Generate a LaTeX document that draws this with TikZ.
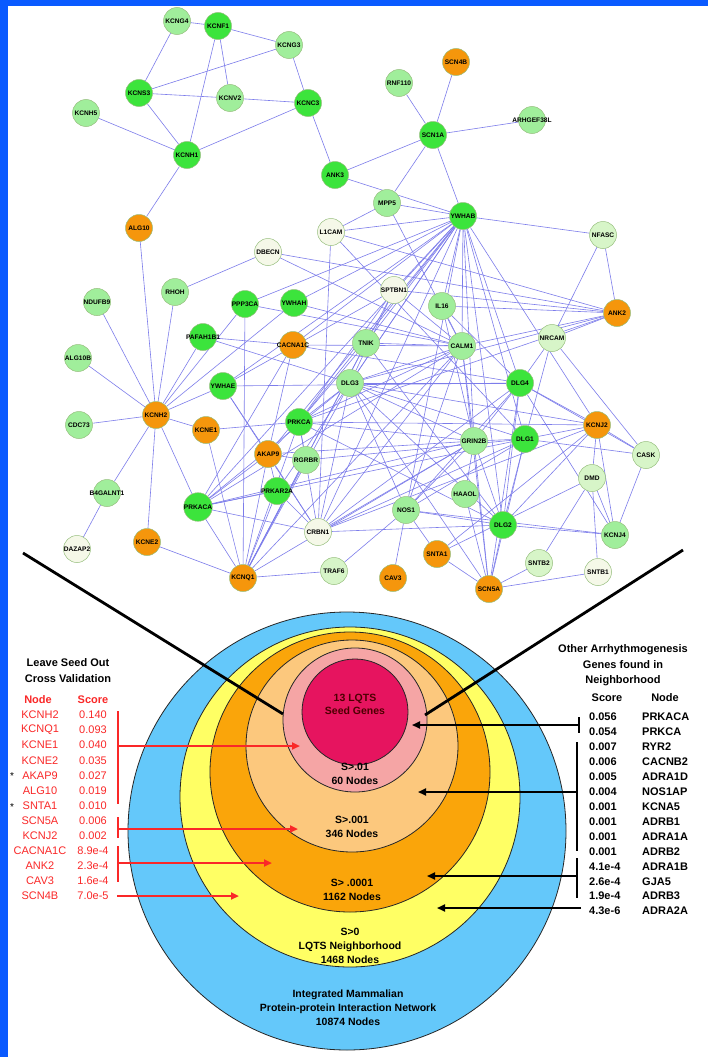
\documentclass[tikz,border=0pt]{standalone}
\usepackage{fontspec}
\setmainfont{Liberation Sans}
\usetikzlibrary{arrows.meta}
\definecolor{bordblue}{RGB}{10,90,255}
\definecolor{edgec}{RGB}{125,125,235}
\definecolor{nbord}{RGB}{150,190,125}
\definecolor{cbg}{RGB}{60,228,60}
\definecolor{clg}{RGB}{160,238,155}
\definecolor{cpg}{RGB}{215,245,200}
\definecolor{cwn}{RGB}{245,248,232}
\definecolor{cog}{RGB}{245,150,12}
\definecolor{ringblue}{RGB}{100,200,250}
\definecolor{ringyel}{RGB}{255,255,100}
\definecolor{ringora}{RGB}{250,165,10}
\definecolor{ringpeach}{RGB}{252,200,125}
\definecolor{ringpink}{RGB}{245,165,165}
\definecolor{ringmag}{RGB}{230,20,95}
\definecolor{redt}{RGB}{250,40,40}
\pgfdeclarelayer{bgfill}
\pgfdeclarelayer{background}
\pgfsetlayers{bgfill,background,main}
\tikzset{
  nd/.style={circle,draw=nbord,line width=0.5pt,minimum size=27pt,inner sep=0pt,font=\fontsize{6.6}{7}\selectfont\bfseries},
  bg/.style={nd,fill=cbg},
  lg/.style={nd,fill=clg},
  pg/.style={nd,fill=cpg},
  wn/.style={nd,fill=cwn},
  og/.style={nd,fill=cog},
  ntext/.style={inner sep=0pt,font=\fontsize{6.6}{7}\selectfont\bfseries},
  edge/.style={draw=edgec,line width=0.6pt},
  ring/.style={draw=black!85,line width=0.8pt},
  ctext/.style={font=\fontsize{10.5}{12}\selectfont\bfseries,align=center,inner sep=0pt},
  redtxt/.style={text=redt,font=\fontsize{11}{12}\selectfont,inner sep=0pt},
  hdr/.style={font=\fontsize{11}{12}\selectfont\bfseries,inner sep=0pt},
  rtxt/.style={font=\fontsize{11}{12}\selectfont\bfseries,inner sep=0pt,anchor=west},
  redbar/.style={draw=redt,line width=2.2pt},
  redarr/.style={draw=redt,line width=2.2pt,-{Triangle[length=8pt,width=7pt]}},
  blkbar/.style={draw=black,line width=1.8pt},
  blkarr/.style={draw=black,line width=1.8pt,-{Triangle[length=8pt,width=7pt]}},
  bigline/.style={draw=black,line width=2.8pt}
}
\begin{document}
\begin{tikzpicture}[x=1pt,y=-1pt]
\useasboundingbox (0,0) rectangle (708,1057);
\begin{pgfonlayer}{bgfill}
\fill[white] (0,0) rectangle (708,1057);
\fill[bordblue] (0,0) rectangle (8,1057);
\fill[bordblue] (0,0) rectangle (708,6);
\end{pgfonlayer}

% ---------- network nodes ----------
\node[lg] (KCNG4) at (177,21) {KCNG4};
\node[bg] (KCNF1) at (218,26) {KCNF1};
\node[lg] (KCNG3) at (289,45) {KCNG3};
\node[bg] (KCNS3) at (139,93) {KCNS3};
\node[lg] (KCNV2) at (230,98) {KCNV2};
\node[bg] (KCNC3) at (308,103) {KCNC3};
\node[lg] (KCNH5) at (86,113) {KCNH5};
\node[bg] (KCNH1) at (187,155) {KCNH1};
\node[bg] (ANK3) at (335,175) {ANK3};
\node[og] (ALG10) at (139,228) {ALG10};
\node[og] (SCN4B) at (456,62) {SCN4B};
\node[lg] (RNF110) at (399,83) {RNF110};
\node[lg] (ARHGEF38L) at (532,120) {};
\node[ntext] (ARHGEF38Lt) at (ARHGEF38L) {ARHGEF38L};
\node[bg] (SCN1A) at (433,135) {SCN1A};
\node[lg] (MPP5) at (387,203) {MPP5};
\node[bg] (YWHAB) at (463,216) {YWHAB};
\node[pg] (NFASC) at (603,235) {NFASC};
\node[wn] (L1CAM) at (331,232) {L1CAM};
\node[wn] (DBECN) at (268,252) {DBECN};
\node[lg] (NDUFB9) at (97,302) {NDUFB9};
\node[lg] (RHOH) at (175,292) {RHOH};
\node[bg] (PPP3CA) at (245,304) {PPP3CA};
\node[bg] (YWHAH) at (294,303) {YWHAH};
\node[bg] (PAFAH1B1) at (203,337) {};
\node[ntext] (PAFAH1B1t) at (PAFAH1B1) {PAFAH1B1};
\node[lg] (ALG10B) at (78,358) {ALG10B};
\node[og] (CACNA1C) at (293,345) {};
\node[ntext] (CACNA1Ct) at (CACNA1C) {CACNA1C};
\node[bg] (YWHAE) at (223,386) {YWHAE};
\node[lg] (DLG3) at (350,383) {DLG3};
\node[og] (KCNH2) at (156,415) {KCNH2};
\node[lg] (CDC73) at (79,425) {CDC73};
\node[og] (KCNE1) at (206,430) {KCNE1};
\node[bg] (PRKCA) at (299,422) {PRKCA};
\node[og] (AKAP9) at (268,454) {AKAP9};
\node[lg] (RGRBR) at (306,460) {RGRBR};
\node[bg] (PRKAR2A) at (277,491) {};
\node[ntext] (PRKAR2At) at (PRKAR2A) {PRKAR2A};
\node[lg] (B4GALNT1) at (107,493) {};
\node[ntext] (B4GALNT1t) at (B4GALNT1) {B4GALNT1};
\node[bg] (PRKACA) at (198,507) {PRKACA};
\node[wn] (CRBN1) at (318,532) {CRBN1};
\node[wn] (DAZAP2) at (77,549) {DAZAP2};
\node[og] (KCNE2) at (147,542) {KCNE2};
\node[og] (KCNQ1) at (243,578) {KCNQ1};
\node[pg] (TRAF6) at (334,571) {TRAF6};
\node[wn] (SPTBN1) at (394,290) {SPTBN1};
\node[lg] (IL16) at (442,306) {IL16};
\node[og] (ANK2) at (617,313) {ANK2};
\node[lg] (TNIK) at (366,343) {TNIK};
\node[lg] (CALM1) at (462,346) {CALM1};
\node[pg] (NRCAM) at (552,338) {NRCAM};
\node[bg] (DLG4) at (520,383) {DLG4};
\node[og] (KCNJ2) at (597,425) {KCNJ2};
\node[lg] (GRIN2B) at (474,441) {GRIN2B};
\node[bg] (DLG1) at (525,439) {DLG1};
\node[pg] (CASK) at (646,455) {CASK};
\node[pg] (DMD) at (592,478) {DMD};
\node[lg] (HAAOL) at (465,494) {HAAOL};
\node[lg] (NOS1) at (406,510) {NOS1};
\node[bg] (DLG2) at (503,525) {DLG2};
\node[lg] (KCNJ4) at (615,535) {KCNJ4};
\node[og] (SNTA1) at (437,554) {SNTA1};
\node[pg] (SNTB2) at (539,563) {SNTB2};
\node[wn] (SNTB1) at (598,572) {SNTB1};
\node[og] (CAV3) at (393,578) {CAV3};
\node[og] (SCN5A) at (489,589) {SCN5A};

\begin{pgfonlayer}{background}
\foreach \a/\b in {%
 KCNG4/KCNF1, KCNG4/KCNS3, KCNF1/KCNG3, KCNF1/KCNV2, KCNF1/KCNH1, KCNG3/KCNS3,
 KCNG3/KCNC3, KCNS3/KCNV2, KCNV2/KCNC3, KCNS3/KCNH1, KCNH5/KCNH1, KCNC3/KCNH1,
 KCNC3/ANK3, KCNH1/ALG10, ALG10/KCNH2,
 SCN4B/SCN1A, RNF110/SCN1A, ARHGEF38L/SCN1A, SCN1A/ANK3, SCN1A/MPP5, SCN1A/YWHAB,
 ANK3/YWHAB, MPP5/YWHAB, YWHAB/NFASC,
 YWHAB/L1CAM, YWHAB/PPP3CA, YWHAB/YWHAH, YWHAB/CACNA1C, YWHAB/YWHAE, YWHAB/PRKCA,
 YWHAB/DLG3, YWHAB/TNIK, YWHAB/SPTBN1, YWHAB/IL16, YWHAB/CALM1, YWHAB/GRIN2B,
 YWHAB/DLG4, YWHAB/DLG1, YWHAB/KCNJ2, YWHAB/CRBN1, YWHAB/PRKAR2A, YWHAB/AKAP9,
 YWHAB/NOS1, YWHAB/DLG2, YWHAB/PRKACA,
 MPP5/CALM1, MPP5/L1CAM,
 L1CAM/CRBN1, L1CAM/ANK2, L1CAM/DLG1,
 DBECN/RHOH, DBECN/ANK2, DBECN/CALM1,
 NFASC/NRCAM, NFASC/ANK2,
 SPTBN1/ANK2, SPTBN1/CALM1, SPTBN1/DLG3, SPTBN1/PRKCA, SPTBN1/YWHAE, SPTBN1/KCNQ1,
 IL16/ANK2, IL16/DLG4, IL16/CALM1, IL16/GRIN2B,
 TNIK/CALM1, CACNA1C/CALM1, TNIK/PRKCA, TNIK/DLG2, TNIK/KCNQ1,
 CALM1/GRIN2B, CALM1/NOS1, CALM1/DLG3, CALM1/PRKCA, CALM1/KCNQ1, CALM1/CRBN1,
 CALM1/ANK2, CALM1/SCN5A, CALM1/PRKACA, YWHAH/CALM1, PPP3CA/CALM1,
 NRCAM/ANK2, NRCAM/DLG4, NRCAM/CASK, NRCAM/DLG1,
 ANK2/DLG3, ANK2/PRKCA,
 DLG4/KCNJ2, DLG4/GRIN2B, DLG4/DLG2, DLG4/NOS1, DLG4/CASK, DLG4/KCNJ4, DLG4/CRBN1,
 DLG4/DLG3, DLG4/SCN5A, YWHAE/DLG4, CACNA1C/DLG4,
 DLG1/KCNJ2, DLG1/DLG2, DLG1/GRIN2B, DLG1/CASK, DLG1/SCN5A, DLG1/DLG3, DLG1/CRBN1, DLG1/NOS1,
 PRKACA/DLG1, PRKACA/GRIN2B, RGRBR/DLG1, AKAP9/GRIN2B, PRKCA/DLG2, CRBN1/KCNJ2,
 KCNJ2/CASK, KCNJ2/KCNJ4, KCNJ2/DLG2, KCNJ2/DMD, KCNJ2/DLG3, KCNJ2/SNTA1, KCNJ2/PRKCA,
 CASK/KCNJ4, DMD/KCNJ4, DMD/SNTB1, DMD/SNTA1, DMD/SNTB2,
 SNTB2/SCN5A, SNTB1/SCN5A, SCN5A/SNTA1, SCN5A/DLG2, SCN5A/GRIN2B, SCN5A/DLG3,
 NOS1/CAV3, NOS1/SNTA1, NOS1/DLG2, NOS1/KCNJ4, NOS1/DLG3, NOS1/TRAF6, NOS1/GRIN2B,
 HAAOL/GRIN2B, HAAOL/SCN5A,
 GRIN2B/DLG2, GRIN2B/DLG3, GRIN2B/CRBN1, GRIN2B/PRKCA, GRIN2B/KCNQ1,
 DLG2/KCNJ4, DLG2/CRBN1, DLG2/DLG3,
 DLG3/PRKCA, DLG3/CRBN1, DLG3/KCNQ1, DLG3/PRKACA,
 KCNH2/NDUFB9, KCNH2/RHOH, KCNH2/PAFAH1B1, KCNH2/ALG10B, KCNH2/CDC73, KCNH2/YWHAE,
 KCNH2/YWHAH, KCNH2/KCNE1, KCNH2/B4GALNT1, KCNH2/KCNE2, KCNH2/PRKACA, KCNH2/PPP3CA,
 B4GALNT1/DAZAP2, KCNE2/KCNQ1, KCNE1/KCNQ1, KCNE1/PRKCA,
 PRKACA/KCNQ1, PRKACA/AKAP9, PRKACA/CRBN1, PRKACA/PRKAR2A,
 AKAP9/KCNQ1, AKAP9/PRKCA, AKAP9/PRKAR2A, AKAP9/RGRBR, AKAP9/YWHAE, AKAP9/CRBN1,
 PRKAR2A/KCNQ1, PRKAR2A/CRBN1, PPP3CA/KCNQ1, YWHAE/CRBN1,
 PRKCA/KCNQ1, PRKCA/RGRBR, PRKCA/CRBN1, RGRBR/KCNQ1,
 CACNA1C/PRKACA, CACNA1C/AKAP9, KCNQ1/TRAF6, PAFAH1B1/DLG3, PAFAH1B1/CACNA1C}{\draw[edge] (\a) -- (\b);}
\end{pgfonlayer}

% ---------- concentric rings ----------
\draw[ring,fill=ringblue] (347,831) circle[radius=219pt];
\draw[ring,fill=ringyel] (350,797) circle[radius=170pt];
\draw[ring,fill=ringora] (350,772) circle[radius=140pt];
\draw[ring,fill=ringpeach] (352,746) circle[radius=106pt];
\draw[ring,fill=ringpink] (355,720) circle[radius=72pt];
\draw[ring,fill=ringmag] (355,712) circle[radius=53pt];

\node[ctext,text=black!70!red] (seed) at (355,704) {13 LQTS\\[1pt]Seed Genes};
\node[ctext] (s01) at (355,774) {S>.01\\[2pt]60 Nodes};
\node[ctext] (s001) at (352,827) {S>.001\\[2pt]346 Nodes};
\node[ctext] (s0001) at (352,890) {S> .0001\\[2pt]1162 Nodes};
\node[ctext] (s0) at (350,946) {S>0\\[2pt]LQTS Neighborhood\\[2pt]1468 Nodes};
\node[ctext] (net) at (348,1008) {Integrated Mammalian\\[2pt]Protein-protein Interaction Network\\[2pt]10874 Nodes};

% ---------- big black connector lines ----------
\coordinate (bl1) at (23,553);
\coordinate (bl2) at (283,714);
\coordinate (br1) at (683,550);
\coordinate (br2) at (425,715);
\draw[bigline] (bl1) -- (bl2);
\draw[bigline] (br1) -- (br2);

% ---------- left table ----------
\node[hdr] (lh1) at (68,663) {Leave Seed Out};
\node[hdr] (lh2) at (68,679) {Cross Validation};
\node[hdr,text=redt] (lhn) at (38,700) {Node};
\node[hdr,text=redt] (lhs) at (93,700) {Score};
\foreach \i/\n/\s in {0/KCNH2/0.140,1/KCNQ1/0.093,2/KCNE1/0.040,3/KCNE2/0.035,4/AKAP9/0.027,5/ALG10/0.019,6/SNTA1/0.010,7/SCN5A/0.006,8/KCNJ2/0.002,9/CACNA1C/8.9e-4,10/ANK2/2.3e-4,11/CAV3/1.6e-4,12/SCN4B/7.0e-5}{%
  \node[redtxt] (ln\i) at (40,{715+15.1*\i}) {\n};
  \node[redtxt] (ls\i) at (93,{715+15.1*\i}) {\s};
}
\node[font=\fontsize{10}{10}\selectfont,inner sep=0pt] (st1) at (12,{715+15.1*4+1}) {*};
\node[font=\fontsize{10}{10}\selectfont,inner sep=0pt] (st2) at (12,{715+15.1*6+1}) {*};

\coordinate (rb1t) at (118,711);
\coordinate (rb1b) at (118,804);
\coordinate (ra1s) at (118,746);
\coordinate (ra1e) at (300,746);
\coordinate (rb2t) at (118,817);
\coordinate (rb2b) at (118,838);
\coordinate (ra2s) at (118,829);
\coordinate (ra2e) at (298,829);
\coordinate (rb3t) at (118,846);
\coordinate (rb3b) at (118,882);
\coordinate (ra3s) at (118,863);
\coordinate (ra3e) at (272,863);
\coordinate (ra4s) at (117,896);
\coordinate (ra4e) at (239,896);
\draw[redbar] (rb1t) -- (rb1b);
\draw[redbar] (rb2t) -- (rb2b);
\draw[redbar] (rb3t) -- (rb3b);
\draw[redarr] (ra1s) -- (ra1e);
\draw[redarr] (ra2s) -- (ra2e);
\draw[redarr] (ra3s) -- (ra3e);
\draw[redarr] (ra4s) -- (ra4e);

% ---------- right table ----------
\node[hdr] (rh1) at (623,650) {Other Arrhythmogenesis};
\node[hdr] (rh2) at (623,665) {Genes found in};
\node[hdr] (rh3) at (623,681) {Neighborhood};
\node[hdr] (rhs) at (607,698) {Score};
\node[hdr] (rhn) at (665,698) {Node};
\foreach \i/\s/\n in {0/0.056/PRKACA,1/0.054/PRKCA,2/0.007/RYR2,3/0.006/CACNB2,4/0.005/ADRA1D,5/0.004/NOS1AP,6/0.001/KCNA5,7/0.001/ADRB1,8/0.001/ADRA1A,9/0.001/ADRB2,10/4.1e-4/ADRA1B,11/2.6e-4/GJA5,12/1.9e-4/ADRB3,13/4.3e-6/ADRA2A}{%
  \node[rtxt] (rs\i) at (589,{717+14.93*\i}) {\s};
  \node[rtxt] (rn\i) at (642,{717+14.93*\i}) {\n};
}
\coordinate (kb1t) at (579,717);
\coordinate (kb1b) at (579,733);
\coordinate (ka1s) at (579,725);
\coordinate (ka1e) at (412,725);
\coordinate (kb2t) at (577,742);
\coordinate (kb2b) at (577,851);
\coordinate (ka2s) at (577,792);
\coordinate (ka2e) at (418,792);
\coordinate (kb3t) at (577,858);
\coordinate (kb3b) at (577,898);
\coordinate (ka3s) at (577,876);
\coordinate (ka3e) at (427,876);
\coordinate (ka4s) at (581,908);
\coordinate (ka4e) at (437,908);
\draw[blkbar] (kb1t) -- (kb1b);
\draw[blkbar] (kb2t) -- (kb2b);
\draw[blkbar] (kb3t) -- (kb3b);
\draw[blkarr] (ka1s) -- (ka1e);
\draw[blkarr] (ka2s) -- (ka2e);
\draw[blkarr] (ka3s) -- (ka3e);
\draw[blkarr] (ka4s) -- (ka4e);
\end{tikzpicture}
\end{document}
